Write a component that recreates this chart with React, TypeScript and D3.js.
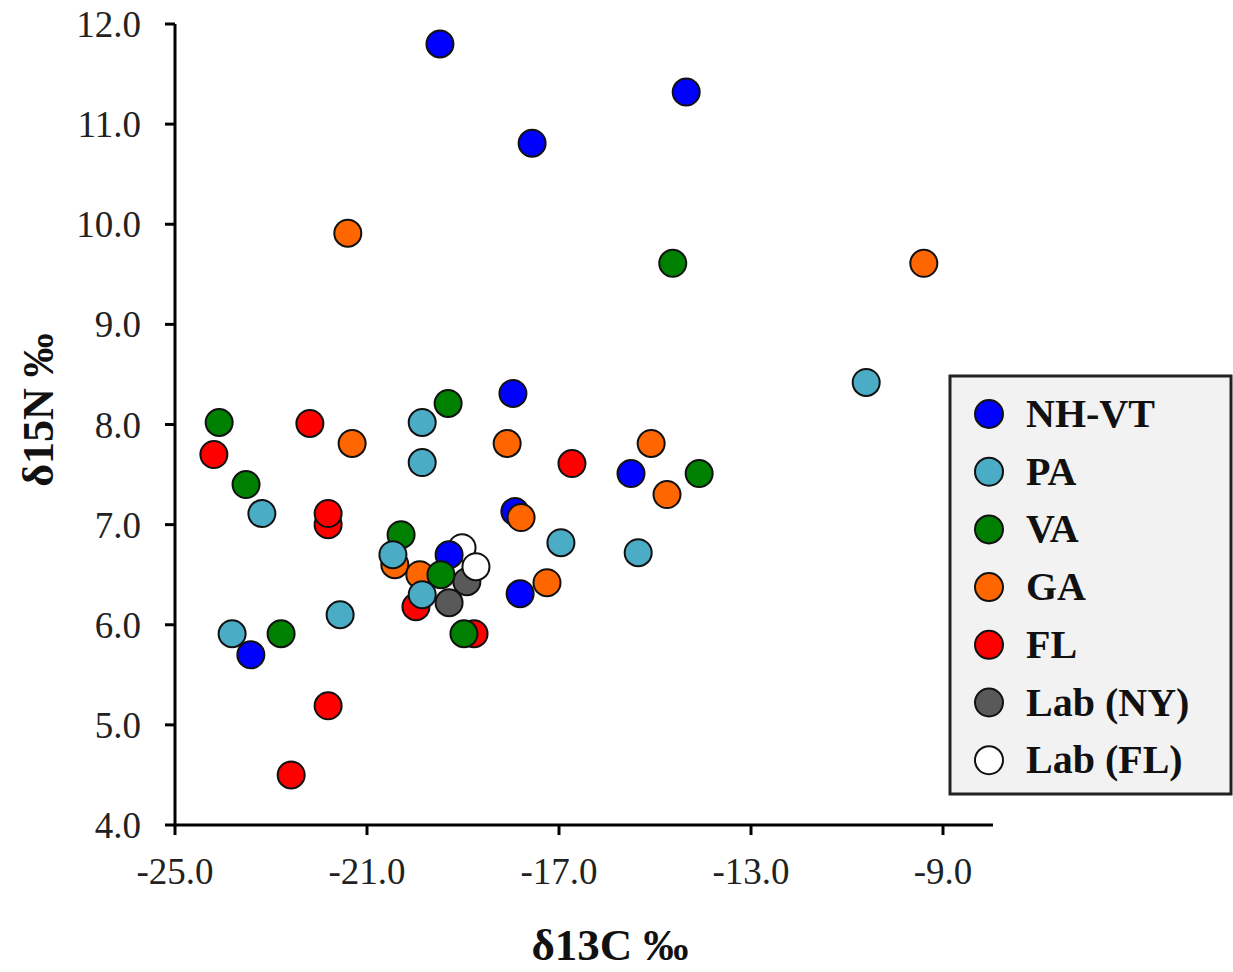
import React from "react";
import * as d3 from "d3";

// δ13C / δ15N isotope pairs per collection site: [δ13C, δ15N]
const nhvt: [number, number][] = [
  [-19.48, 11.8], [-14.35, 11.32], [-17.56, 10.81], [-17.96, 8.31],
  [-15.5, 7.51], [-19.29, 6.7], [-17.81, 6.31], [-23.42, 5.7], [-17.92, 7.13],
];
const pa: [number, number][] = [
  [-10.6, 8.42], [-19.85, 8.02], [-19.85, 7.62], [-23.19, 7.11],
  [-16.96, 6.82], [-15.35, 6.72], [-20.46, 6.7], [-19.85, 6.3],
  [-21.56, 6.1], [-23.81, 5.91],
];
const va: [number, number][] = [
  [-14.63, 9.61], [-24.08, 8.02], [-19.31, 8.21], [-23.52, 7.4],
  [-14.08, 7.51], [-20.29, 6.9], [-19.46, 6.5], [-22.79, 5.91], [-18.98, 5.91],
];
const ga: [number, number][] = [
  [-21.4, 9.91], [-9.4, 9.61], [-21.31, 7.81], [-18.08, 7.81],
  [-15.08, 7.81], [-14.75, 7.3], [-17.79, 7.07], [-20.42, 6.6],
  [-19.9, 6.5], [-17.25, 6.42],
];
const fl: [number, number][] = [
  [-22.19, 8.01], [-24.19, 7.7], [-16.73, 7.61], [-21.81, 7.0],
  [-21.81, 7.11], [-19.98, 6.18], [-18.77, 5.91], [-21.81, 5.19], [-22.58, 4.5],
];
const labNY: [number, number][] = [[-19.29, 6.22], [-18.92, 6.43]];
const labFL: [number, number][] = [[-19.02, 6.77], [-18.73, 6.58]];

const seriesNames = ["NH-VT", "PA", "VA", "GA", "FL", "Lab (NY)", "Lab (FL)"];
const seriesColors = ["#0000ff", "#4bacc6", "#008000", "#ff6600", "#ff0000", "#595959", "#ffffff"];
const seriesData = [nhvt, pa, va, ga, fl, labNY, labFL];
// paint order, bottom to top
const drawOrder = [5, 6, 4, 0, 3, 2, 1];

const xTicks = [-25, -21, -17, -13, -9];
const yTicks = [4, 5, 6, 7, 8, 9, 10, 11, 12];

const W = 1233;
const H = 972;
const serif = "'Liberation Serif', 'Times New Roman', serif";

// one decimal, plain hyphen for negatives
const fmt = (v: number) => d3.format(".1f")(v).replace("\u2212", "-");

export default function App() {
  const x = d3.scaleLinear().domain([-25, -8]).range([175, 991]);
  const y = d3.scaleLinear().domain([4, 12]).range([825, 24]);
  const r = 13.5;

  return (
    <svg width={W} height={H} style={{ position: "absolute", left: 0, top: 0, background: "#fff" }}>
      {/* axes */}
      <line x1={x(-25)} y1={y(12)} x2={x(-25)} y2={y(4) + 1.5} stroke="#000" strokeWidth={3} />
      <line x1={x(-25) - 1.5} y1={y(4)} x2={x(-8) + 2} y2={y(4)} stroke="#000" strokeWidth={3} />
      {yTicks.map((t) => (
        <g key={"y" + t}>
          <line x1={x(-25) - 10} x2={x(-25)} y1={y(t)} y2={y(t)} stroke="#000" strokeWidth={3} />
          <text x={141} y={y(t) + 13} textAnchor="end" fontFamily={serif} fontSize={37} fill="#222">
            {fmt(t)}
          </text>
        </g>
      ))}
      {xTicks.map((t) => (
        <g key={"x" + t}>
          <line x1={x(t)} x2={x(t)} y1={y(4)} y2={y(4) + 10} stroke="#000" strokeWidth={3} />
          <text x={x(t)} y={884} textAnchor="middle" fontFamily={serif} fontSize={37} fill="#222">
            {fmt(t)}
          </text>
        </g>
      ))}
      <text x={610} y={960} textAnchor="middle" fontFamily={serif} fontWeight="bold" fontSize={45} fill="#111">
        δ13C ‰
      </text>
      <text
        transform={`translate(53,410) rotate(-90)`}
        textAnchor="middle"
        fontFamily={serif}
        fontWeight="bold"
        fontSize={44}
        fill="#111"
      >
        δ15N ‰
      </text>

      {/* points */}
      {drawOrder.map((si) => (
        <g key={"s" + si}>
          {seriesData[si].map((d, i) => (
            <circle
              key={i}
              cx={x(d[0])}
              cy={y(d[1])}
              r={r}
              fill={seriesColors[si]}
              stroke="#111"
              strokeWidth={2}
            />
          ))}
        </g>
      ))}

      {/* legend */}
      <rect x={950} y={376} width={281} height={418} fill="#f2f2f2" stroke="#222" strokeWidth={3} />
      {seriesNames.map((n, i) => (
        <g key={"l" + i} transform={`translate(0, ${414 + i * 57.7})`}>
          <circle cx={989} cy={0} r={14} fill={seriesColors[i]} stroke="#111" strokeWidth={2} />
          <text x={1026} y={13} fontFamily={serif} fontWeight="bold" fontSize={40} fill="#111">
            {n}
          </text>
        </g>
      ))}
    </svg>
  );
}
